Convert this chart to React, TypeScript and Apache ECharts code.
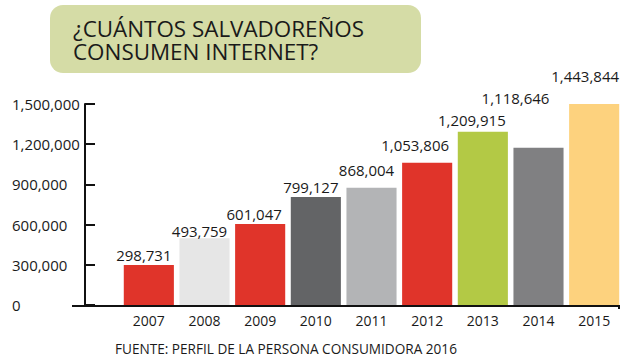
import React, { useEffect, useRef } from "react";
import * as echarts from "echarts";

const years = ["2007", "2008", "2009", "2010", "2011", "2012", "2013", "2014", "2015"];
// bar heights as drawn in the picture
const barValues = [299000, 498000, 604000, 806000, 875000, 1062000, 1293000, 1174000, 1500000];
// value labels printed above the bars
const valueLabels = ["298,731", "493,759", "601,047", "799,127", "868,004", "1,053,806", "1,209,915", "1,118,646", "1,443,844"];
const barColors = ["#e0342a", "#e6e6e6", "#e0342a", "#636466", "#b3b4b6", "#e0342a", "#b3c945", "#808082", "#fdd27e"];
const labelOffsets = [[-5, 0], [-5, 3], [-6, 0], [-5, 0], [-5, -8], [-12, -8], [-11, -2], [-23, -40], [-9, -18]];
const yTicks = [0, 300000, 600000, 900000, 1200000, 1500000];

const titleLines = ["¿CUÁNTOS SALVADOREÑOS", "CONSUMEN INTERNET?"];
const sourceText = "FUENTE: PERFIL DE LA PERSONA CONSUMIDORA 2016";

const FONT = "'Open Sans', 'Noto Sans', sans-serif";

export default function App() {
  const ref = useRef<HTMLDivElement>(null);
  useEffect(() => {
    if (!ref.current) return;
    const chart = echarts.init(ref.current, null, { renderer: "svg" });
    const fmt = (v: number) => v.toLocaleString("en-US");
    chart.setOption({
      animation: false,
      backgroundColor: "#ffffff",
      textStyle: { fontFamily: FONT },
      grid: { left: 121, right: 5, top: 104, bottom: 55 },
      xAxis: {
        type: "category",
        data: years,
        axisLine: { show: false },
        axisTick: { show: false },
        axisLabel: { color: "#1a1a1a", fontSize: 14, margin: 8, fontFamily: FONT },
      },
      yAxis: {
        type: "value",
        min: 0,
        max: yTicks[yTicks.length - 1],
        interval: yTicks[1] - yTicks[0],
        offset: 36,
        splitLine: { show: false },
        axisLine: { show: true, lineStyle: { color: "#111", width: 2 } },
        axisTick: { show: true, inside: true, length: 10, lineStyle: { color: "#111", width: 2 } },
        axisLabel: {
          color: "#1a1a1a",
          fontSize: 15,
          margin: 73,
          align: "left",
          fontFamily: FONT,
          formatter: (v: number) => fmt(v),
        },
      },
      graphic: [
        {
          type: "rect",
          shape: { x: 50, y: 5, width: 371, height: 68, r: 13 },
          style: { fill: "#d5dca6" },
        },
        {
          type: "text",
          x: 73,
          y: 28.5,
          style: {
            text: titleLines[0],
            font: `22.4px ${FONT}`,
            fill: "#1a1a1a",
            verticalAlign: "middle",
          },
        },
        {
          type: "text",
          x: 73,
          y: 51.2,
          style: {
            text: titleLines[1],
            font: `22.4px ${FONT}`,
            fill: "#1a1a1a",
            verticalAlign: "middle",
          },
        },
        {
          type: "line",
          shape: { x1: 72, y1: 306, x2: 620, y2: 306 },
          style: { stroke: "#111", lineWidth: 2 },
        },
        {
          type: "line",
          shape: { x1: 619, y1: 305, x2: 619, y2: 309 },
          style: { stroke: "#111", lineWidth: 2 },
        },
        {
          type: "text",
          x: 115,
          y: 348,
          style: {
            text: sourceText,
            font: `13.6px ${FONT}`,
            fill: "#1a1a1a",
            verticalAlign: "middle",
          },
        },
      ],
      series: [
        {
          type: "bar",
          barCategoryGap: "10%",
          data: barValues.map((v, i) => ({
            value: v,
            itemStyle: { color: barColors[i] },
            label: { offset: labelOffsets[i] },
          })),
          label: {
            show: true,
            position: "top",
            distance: 2.5,
            fontSize: 15,
            color: "#1a1a1a",
            fontFamily: FONT,
            formatter: (p: any) => valueLabels[p.dataIndex],
          },
        },
      ],
    });
    return () => chart.dispose();
  }, []);
  return <div ref={ref} style={{ width: 627, height: 360, position: "absolute", left: 0, top: 0 }} />;
}
